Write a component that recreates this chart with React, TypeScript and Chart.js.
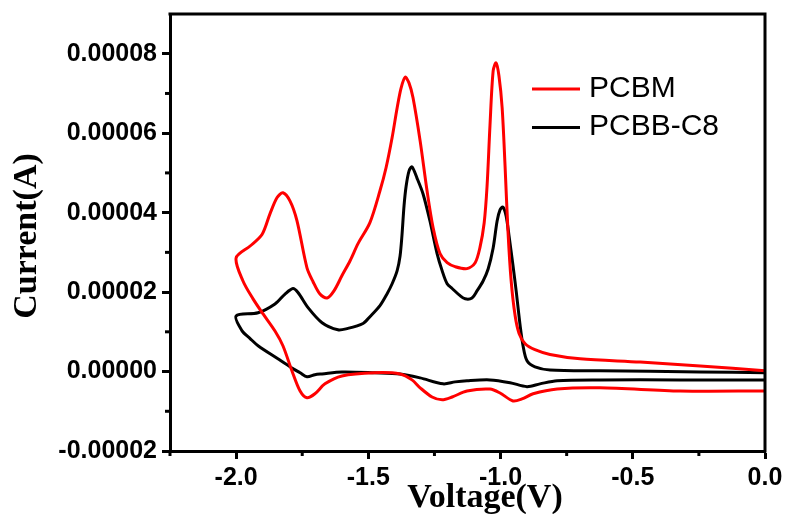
import React, { useEffect, useRef } from "react";
import { Chart, registerables } from "chart.js";
Chart.register(...registerables);

// PCBM: cathodic branch (0 V -> -2 V) then return branch (-2 V -> 0 V)
const pcbmVoltage = [
  0.0, -0.245, -0.472, -0.699, -0.813, -0.87, -0.907, -0.93, -0.945, -0.96, -0.972, -0.983, -0.994, -1.006, -1.017,
  -1.028, -1.04, -1.051, -1.062, -1.078, -1.096, -1.127, -1.172, -1.202, -1.229, -1.255, -1.278, -1.304, -1.331,
  -1.346, -1.361, -1.376, -1.391, -1.41, -1.433, -1.456, -1.494, -1.539, -1.569, -1.6, -1.63, -1.656, -1.683, -1.709,
  -1.732, -1.77, -1.796, -1.823, -1.845, -1.872, -1.902, -1.947, -2.0,
  -1.974, -1.936, -1.898, -1.853, -1.823, -1.789, -1.758, -1.732, -1.702, -1.664, -1.6, -1.475, -1.38, -1.335,
  -1.304, -1.259, -1.221, -1.183, -1.127, -1.04, -1.002, -0.953, -0.919, -0.877, -0.786, -0.624, -0.321, 0.0,
];
const pcbmCurrent = [
  0.02e-5, 0.14e-5, 0.24e-5, 0.32e-5, 0.43e-5, 0.55e-5, 0.7e-5, 0.96e-5, 1.41e-5, 2.29e-5, 3.54e-5, 5.18e-5, 6.64e-5,
  7.44e-5, 7.77e-5, 7.57e-5, 6.19e-5, 4.67e-5, 3.74e-5, 3.12e-5, 2.74e-5, 2.59e-5, 2.64e-5, 2.74e-5, 2.97e-5,
  3.62e-5, 4.55e-5, 5.8e-5, 6.89e-5, 7.26e-5, 7.41e-5, 7.14e-5, 6.64e-5, 5.89e-5, 5.13e-5, 4.55e-5, 3.75e-5,
  3.22e-5, 2.79e-5, 2.41e-5, 2.03e-5, 1.85e-5, 1.95e-5, 2.26e-5, 2.61e-5, 3.8e-5, 4.29e-5, 4.5e-5, 4.38e-5,
  3.97e-5, 3.45e-5, 3.16e-5, 2.86e-5,
  2.28e-5, 1.83e-5, 1.45e-5, 1.02e-5, 0.65e-5, 0.02e-5, -0.49e-5, -0.66e-5, -0.56e-5, -0.31e-5, -0.11e-5,
  -0.03e-5, -0.06e-5, -0.21e-5, -0.41e-5, -0.64e-5, -0.71e-5, -0.64e-5, -0.49e-5, -0.44e-5, -0.54e-5, -0.74e-5,
  -0.69e-5, -0.56e-5, -0.44e-5, -0.41e-5, -0.49e-5, -0.49e-5,
];

// PCBB-C8
const pcbbVoltage = [
  0.0, -0.245, -0.624, -0.813, -0.87, -0.9, -0.915, -0.926, -0.941, -0.953, -0.968, -0.979, -0.991, -1.002, -1.013,
  -1.028, -1.047, -1.066, -1.089, -1.108, -1.134, -1.153, -1.183, -1.202, -1.221, -1.24, -1.267, -1.293, -1.316,
  -1.335, -1.346, -1.357, -1.365, -1.373, -1.38, -1.391, -1.41, -1.429, -1.456, -1.494, -1.52, -1.581, -1.615,
  -1.675, -1.728, -1.766, -1.785, -1.815, -1.853, -1.917, -2.0,
  -1.978, -1.947, -1.917, -1.842, -1.789, -1.758, -1.732, -1.702, -1.675, -1.6, -1.475, -1.38, -1.304, -1.217,
  -1.172, -1.127, -1.04, -0.964, -0.9, -0.851, -0.786, -0.624, -0.321, 0.0,
];
const pcbbCurrent = [
  -0.03e-5, -0.01e-5, 0.02e-5, 0.04e-5, 0.12e-5, 0.27e-5, 0.65e-5, 1.16e-5, 2.03e-5, 2.67e-5, 3.42e-5, 3.92e-5,
  4.14e-5, 4.07e-5, 3.79e-5, 3.11e-5, 2.58e-5, 2.28e-5, 2.03e-5, 1.85e-5, 1.83e-5, 1.91e-5, 2.09e-5, 2.21e-5,
  2.54e-5, 2.97e-5, 3.79e-5, 4.47e-5, 4.87e-5, 5.15e-5, 5.05e-5, 4.67e-5, 4.17e-5, 3.41e-5, 2.91e-5, 2.54e-5,
  2.21e-5, 1.96e-5, 1.66e-5, 1.38e-5, 1.21e-5, 1.08e-5, 1.05e-5, 1.23e-5, 1.61e-5, 1.99e-5, 2.09e-5, 1.95e-5,
  1.7e-5, 1.48e-5, 1.4e-5,
  1.03e-5, 0.83e-5, 0.65e-5, 0.32e-5, 0.09e-5, -0.03e-5, -0.13e-5, -0.08e-5, -0.06e-5, -0.01e-5, -0.03e-5,
  -0.06e-5, -0.16e-5, -0.31e-5, -0.26e-5, -0.23e-5, -0.21e-5, -0.28e-5, -0.38e-5, -0.31e-5, -0.23e-5, -0.21e-5,
  -0.21e-5, -0.21e-5,
];

const seriesNames = ["PCBM", "PCBB-C8"];
const seriesColors = ["#ff0000", "#000000"];
const xTickValues = [-2.0, -1.5, -1.0, -0.5, 0.0];
const xMinorValues = [-2.25, -1.75, -1.25, -0.75, -0.25];
const yTickValues = [-0.00002, 0, 0.00002, 0.00004, 0.00006, 0.00008];
const yMinorValues = [-0.00001, 0.00001, 0.00003, 0.00005, 0.00007];
const xTitle = "Voltage(V)";
const yTitle = "Current(A)";

const toPoints = (xs: number[], ys: number[]) => xs.map((x, i) => ({ x, y: ys[i] }));

const SANS = '"Liberation Sans", Arial, sans-serif';
const SERIF = '"Liberation Serif", "Times New Roman", serif';

const framePlugin = {
  id: "frame",
  afterDraw(chart: any) {
    const { ctx, chartArea: a, scales } = chart;
    ctx.save();
    ctx.strokeStyle = "#000";
    ctx.lineWidth = 3;
    ctx.lineJoin = "miter";
    ctx.beginPath();
    ctx.moveTo(a.left - 1.5, a.top);
    ctx.lineTo(a.right, a.top);
    ctx.lineTo(a.right, a.bottom + 1.5);
    ctx.stroke();

    // minor ticks
    xMinorValues.forEach((v) => {
      const px = scales.x.getPixelForValue(v);
      ctx.beginPath();
      ctx.moveTo(px, a.bottom);
      ctx.lineTo(px, a.bottom + 5);
      ctx.stroke();
    });
    yMinorValues.forEach((v) => {
      const py = scales.y.getPixelForValue(v);
      ctx.beginPath();
      ctx.moveTo(a.left - 5, py);
      ctx.lineTo(a.left, py);
      ctx.stroke();
    });

    // axis titles
    ctx.fillStyle = "#000";
    ctx.font = `bold 34px ${SERIF}`;
    ctx.textAlign = "center";
    ctx.textBaseline = "alphabetic";
    ctx.fillText(xTitle, 485, 507);
    ctx.save();
    ctx.translate(36, 236);
    ctx.rotate(-Math.PI / 2);
    ctx.fillText(yTitle, 0, 0);
    ctx.restore();

    // legend
    ctx.font = `30px ${SANS}`;
    ctx.textAlign = "left";
    seriesNames.forEach((name, i) => {
      const ly = 89 + i * 38.5;
      ctx.strokeStyle = seriesColors[i];
      ctx.lineWidth = 3;
      ctx.beginPath();
      ctx.moveTo(532, ly);
      ctx.lineTo(580, ly);
      ctx.stroke();
      ctx.fillStyle = "#000";
      ctx.fillText(name, 589, 97 + i * 38);
    });
    ctx.restore();
  },
};

export default function App() {
  const ref = useRef<HTMLCanvasElement | null>(null);
  useEffect(() => {
    if (!ref.current) return;
    const chart = new Chart(ref.current, {
      type: "scatter",
      data: {
        datasets: [
          {
            label: seriesNames[0],
            data: toPoints(pcbmVoltage, pcbmCurrent),
            borderColor: seriesColors[0],
            backgroundColor: seriesColors[0],
            borderWidth: 3,
            showLine: true,
            pointRadius: 0,
            tension: 0.3,
          },
          {
            label: seriesNames[1],
            data: toPoints(pcbbVoltage, pcbbCurrent),
            borderColor: seriesColors[1],
            backgroundColor: seriesColors[1],
            borderWidth: 3,
            showLine: true,
            pointRadius: 0,
            tension: 0.3,
          },
        ],
      },
      options: {
        responsive: false,
        animation: false,
        devicePixelRatio: 1,
        layout: { padding: { top: 14, right: 23, left: 0, bottom: 0 } },
        plugins: { legend: { display: false }, tooltip: { enabled: false } },
        scales: {
          x: {
            type: "linear",
            min: -2.25,
            max: 0,
            afterBuildTicks: (s: any) => {
              s.ticks = xTickValues.map((v) => ({ value: v }));
            },
            afterFit: (s: any) => {
              s.height = 63;
            },
            ticks: {
              autoSkip: false,
              maxRotation: 0,
              padding: 4,
              color: "#000",
              font: { family: SANS, size: 25, weight: "bold" },
              callback: (v: any) => Number(v).toFixed(1),
            },
            grid: {
              drawOnChartArea: false,
              drawTicks: true,
              tickLength: 8,
              tickWidth: 3,
              tickColor: "#000",
            },
            border: { display: true, color: "#000", width: 3 },
          },
          y: {
            type: "linear",
            min: -0.00002,
            max: 0.00009,
            afterBuildTicks: (s: any) => {
              s.ticks = yTickValues.map((v) => ({ value: v }));
            },
            afterFit: (s: any) => {
              s.width = 170;
            },
            ticks: {
              autoSkip: false,
              padding: 5,
              color: "#000",
              font: { family: SANS, size: 25, weight: "bold", lineHeight: 0.4 },
              callback: (v: any) => Number(v).toFixed(5),
            },
            grid: {
              drawOnChartArea: false,
              drawTicks: true,
              tickLength: 8,
              tickWidth: 3,
              tickColor: "#000",
            },
            border: { display: true, color: "#000", width: 3 },
          },
        },
      },
      plugins: [framePlugin],
    } as any);
    return () => chart.destroy();
  }, []);
  return (
    <div style={{ position: "fixed", left: 0, top: 0, width: 788, height: 514, background: "#fff" }}>
      <canvas ref={ref} width={788} height={514} style={{ display: "block" }} />
    </div>
  );
}
